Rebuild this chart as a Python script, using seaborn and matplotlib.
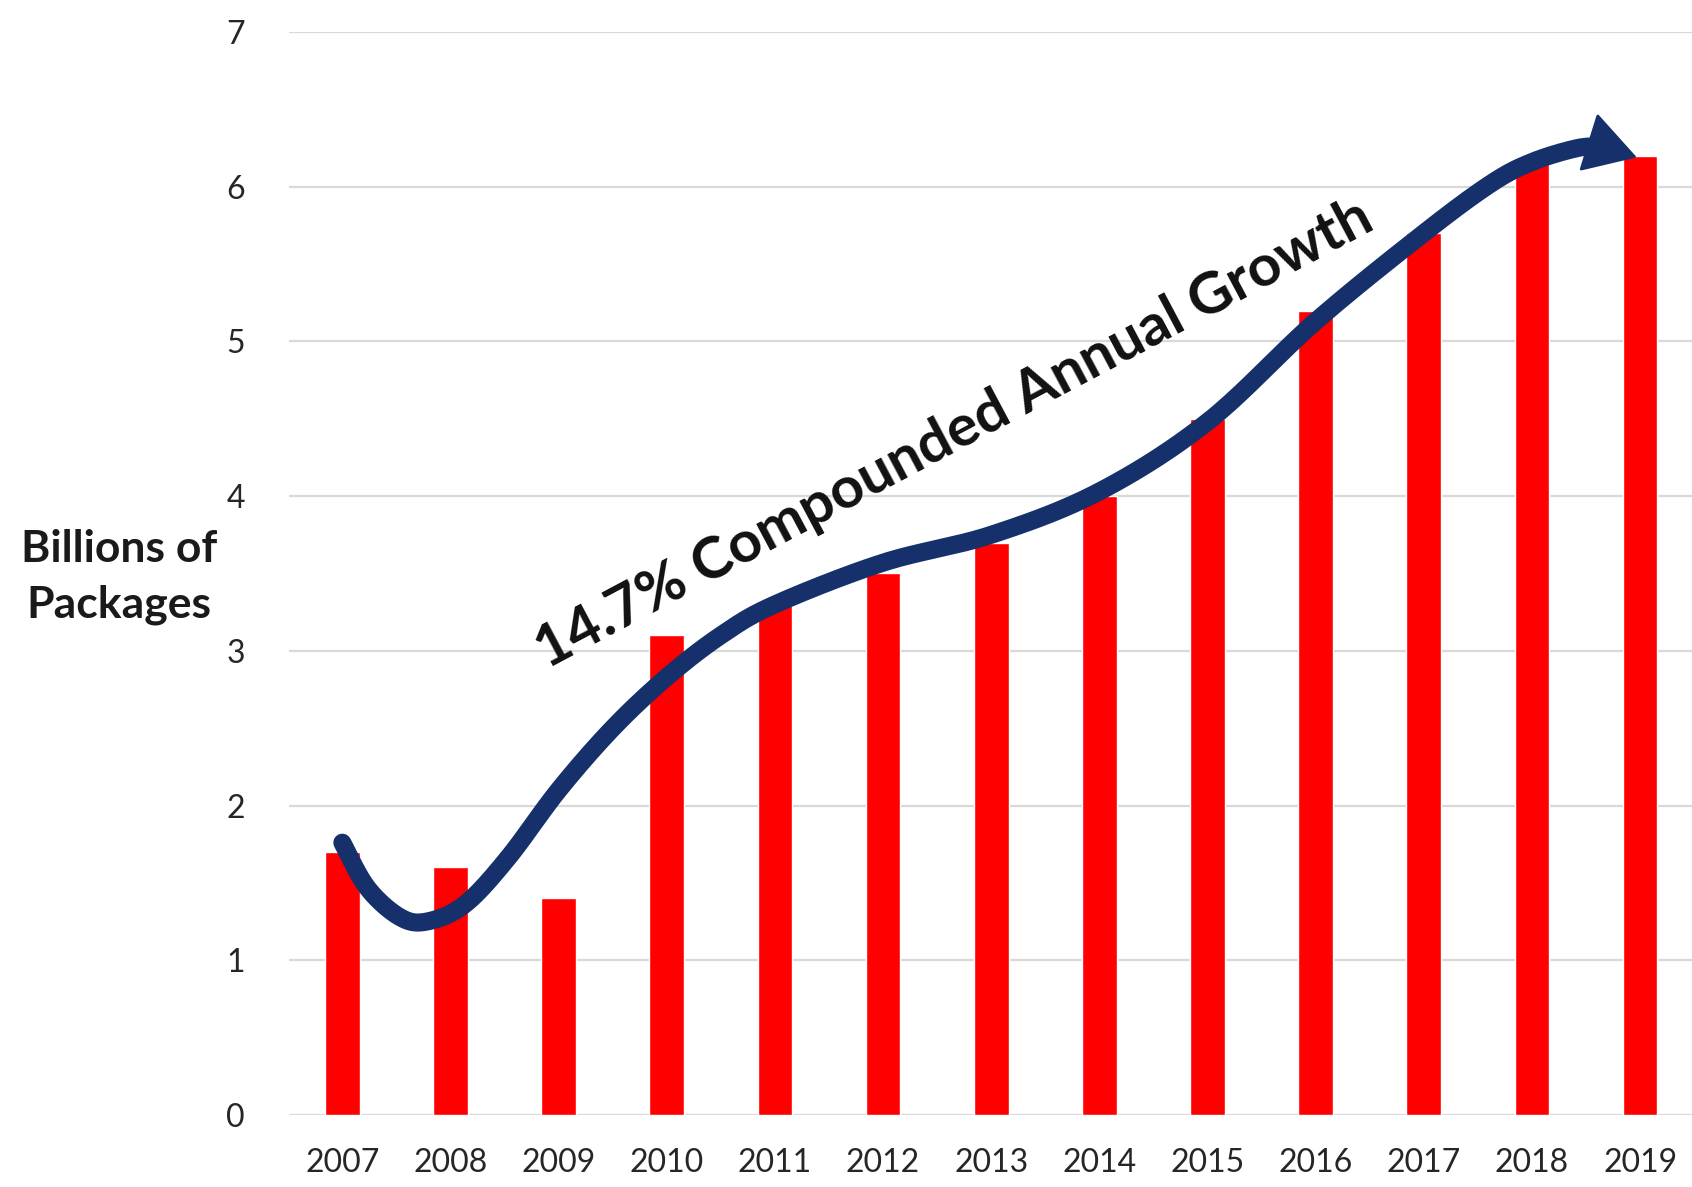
import numpy as np
import pandas as pd
import matplotlib
matplotlib.use("Agg")
import matplotlib.pyplot as plt
import seaborn as sns

years = ["2007", "2008", "2009", "2010", "2011", "2012", "2013",
         "2014", "2015", "2016", "2017", "2018", "2019"]
packages = [1.7, 1.6, 1.4, 3.1, 3.3, 3.5, 3.7, 4.0, 4.5, 5.2, 5.7, 6.15, 6.2]
y_ticks = [0, 1, 2, 3, 4, 5, 6, 7]

# guide points of the hand-drawn growth arrow (category index, value)
arrow_x = [0.0, 0.23, 0.53, 0.78, 1.13, 1.53, 2.0, 2.5, 3.0, 3.5, 4.0, 5.0,
           6.0, 7.0, 8.0, 9.0, 10.0, 10.62, 11.0, 11.42, 11.65]
arrow_y = [1.76, 1.47, 1.28, 1.25, 1.36, 1.66, 2.1, 2.5, 2.83, 3.1, 3.30,
           3.57, 3.75, 4.03, 4.48, 5.13, 5.70, 6.02, 6.16, 6.25, 6.26]
arrow_tip = (11.97, 6.19)

sns.set_style("white")
plt.rcParams["font.family"] = ["Lato", "DejaVu Sans"]

df = pd.DataFrame({"year": years, "packages": packages})

fig = plt.figure(figsize=(16.92, 11.87), dpi=100)
ax = fig.add_axes([0.171, 0.0607, 0.829, 0.9123])

sns.barplot(data=df, x="year", y="packages", color="#ff0000",
            saturation=1, width=0.32, ax=ax, zorder=2)

ax.set_ylim(0, 7)
ax.set_xlim(-0.49, 12.48)
ax.set_yticks(y_ticks)
ax.yaxis.grid(True, color="#d9d9d9", lw=1.6, zorder=0)
ax.set_axisbelow(True)
for s in ax.spines.values():
    s.set_visible(False)
ax.tick_params(axis="both", length=0, labelsize=23, colors="#262626")
ax.tick_params(axis="y", pad=32)
ax.tick_params(axis="x", pad=24)
ax.set_xlabel("")
ax.set_ylabel("")

fig.text(0.0705, 0.514, "Billions of\nPackages", ha="center", va="center",
         fontsize=32, fontweight="bold", color="#1a1a1a", linespacing=1.45)


# smooth the arrow guide points (Catmull-Rom)
def catmull(xs, ys, n=20):
    P = np.column_stack([xs, ys])
    P = np.vstack([P[0], P, P[-1]])
    out = []
    for i in range(1, len(P) - 2):
        p0, p1, p2, p3 = P[i - 1], P[i], P[i + 1], P[i + 2]
        t = np.linspace(0, 1, n, endpoint=False)[:, None]
        pts = 0.5 * ((2 * p1) + (-p0 + p2) * t +
                     (2 * p0 - 5 * p1 + 4 * p2 - p3) * t ** 2 +
                     (-p0 + 3 * p1 - 3 * p2 + p3) * t ** 3)
        out.append(pts)
    out.append(P[-2][None, :])
    return np.vstack(out)


curve = catmull(arrow_x, arrow_y)
navy = "#15306b"
ax.plot(curve[:, 0], curve[:, 1], color=navy, lw=13,
        solid_capstyle="round", zorder=3)
ax.annotate("", xy=arrow_tip, xytext=(arrow_x[-1], arrow_y[-1]),
            arrowprops=dict(arrowstyle="-|>,head_length=1.35,head_width=0.8",
                            mutation_scale=25, color=navy, lw=2,
                            shrinkA=0, shrinkB=0), zorder=4)

ax.text(5.66, 4.40, "14.7% Compounded Annual Growth", rotation=28,
        rotation_mode="anchor", ha="center", va="center",
        fontsize=42, fontweight="bold", color="#111111", zorder=5)

fig.savefig("out.png", dpi=100, facecolor="white")
